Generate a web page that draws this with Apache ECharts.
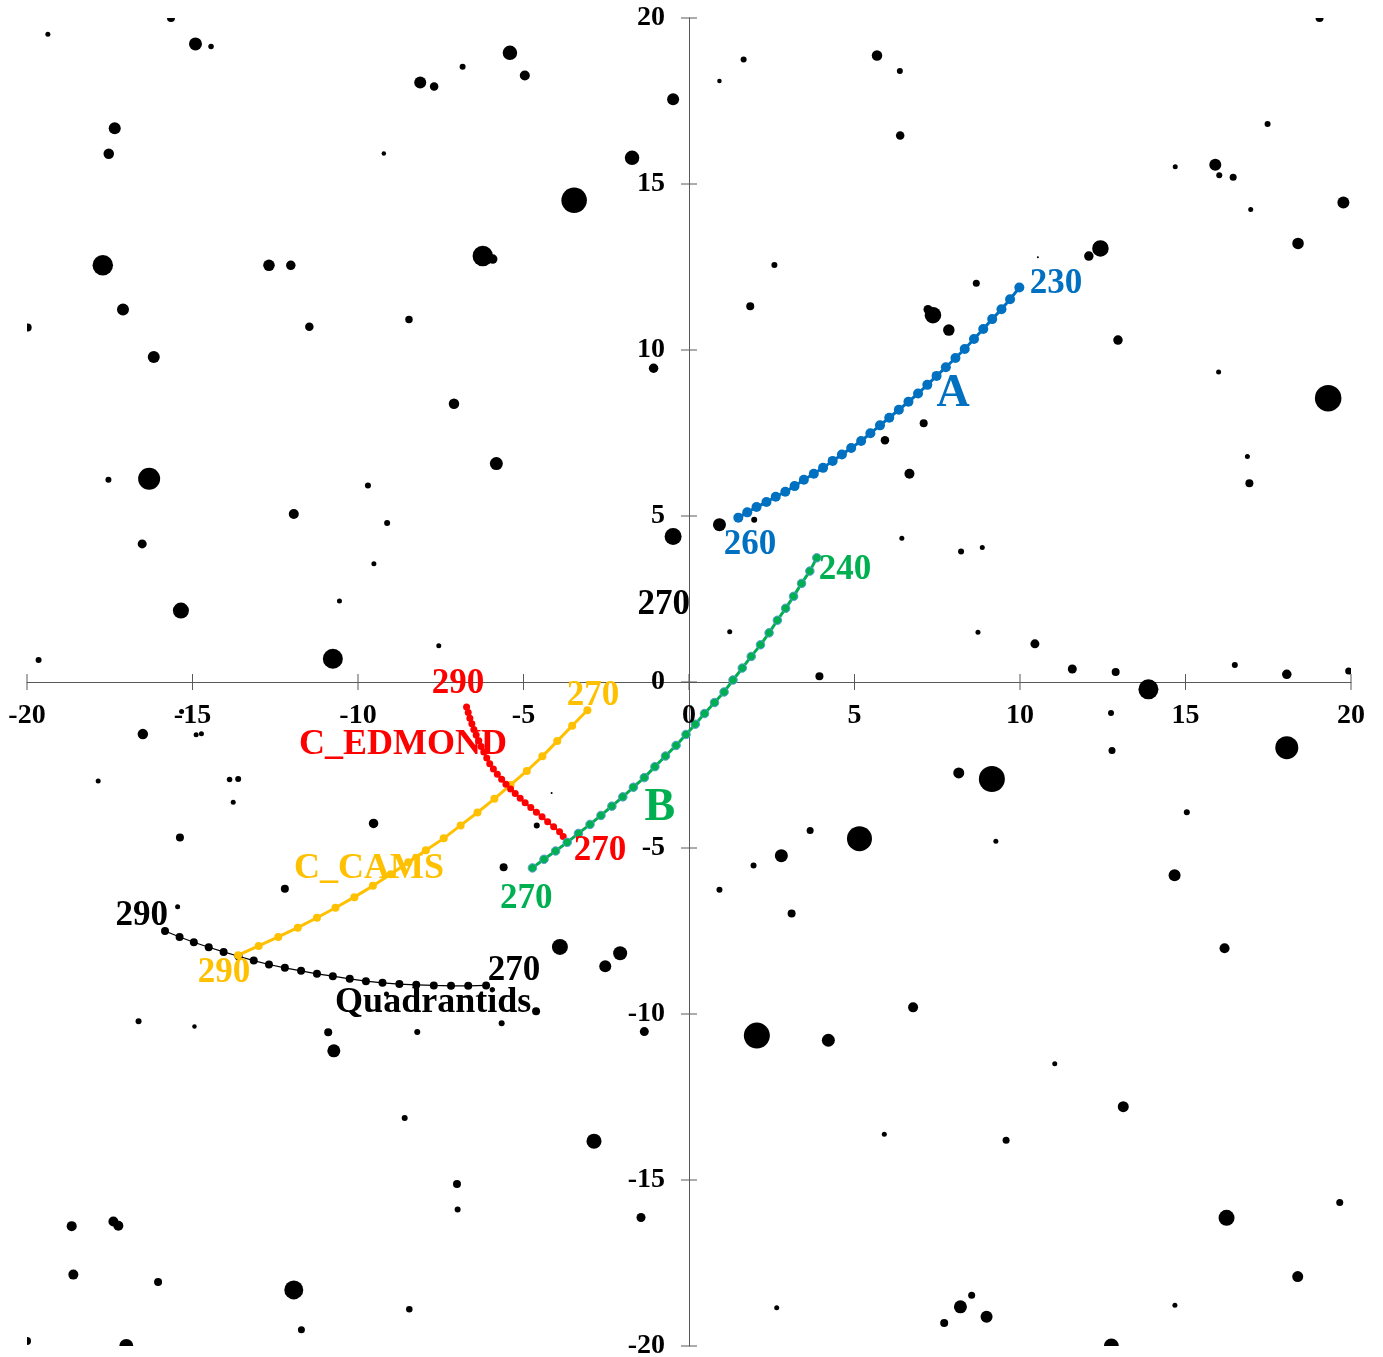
<!DOCTYPE html>
<html>
<head>
<meta charset="utf-8">
<script src="https://cdn.jsdelivr.net/npm/echarts@6/dist/echarts.min.js"></script>
<style>
  html, body { margin: 0; padding: 0; background: #ffffff; }
  #chart { width: 1383px; height: 1357px; }
</style>
</head>
<body>
<div id="chart"></div>
<script>
// Radiant drift of the meteor streams (solar longitude marks at the ends),
// plotted over the background star field.

const AXIS_MIN = -20;
const AXIS_MAX = 20;
const AXIS_STEP = 5;
const tickValues = [-20, -15, -10, -5, 0, 5, 10, 15, 20];

// Stream A, solar longitude 260 -> 230
const streamA = [
  [1.49, 4.95], [1.76, 5.11], [2.04, 5.27], [2.34, 5.42], [2.62, 5.58], [2.91, 5.73],
  [3.19, 5.90], [3.47, 6.09], [3.77, 6.27], [4.05, 6.45], [4.34, 6.66], [4.62, 6.85],
  [4.90, 7.05], [5.20, 7.26], [5.48, 7.49], [5.77, 7.73], [6.05, 7.96], [6.34, 8.20],
  [6.63, 8.44], [6.92, 8.69], [7.20, 8.95], [7.48, 9.22], [7.76, 9.48], [8.05, 9.76],
  [8.33, 10.03], [8.61, 10.33], [8.89, 10.63], [9.16, 10.93], [9.44, 11.23], [9.70, 11.53],
  [9.98, 11.88]
];

// Stream B, solar longitude 270 -> 240
const streamB = [
  [-4.73, -5.60], [-4.38, -5.34], [-4.03, -5.09], [-3.68, -4.83], [-3.34, -4.56], [-2.99, -4.29],
  [-2.66, -4.02], [-2.33, -3.74], [-2.00, -3.46], [-1.68, -3.17], [-1.35, -2.88], [-1.03, -2.55],
  [-0.71, -2.23], [-0.39, -1.91], [-0.09, -1.58], [0.19, -1.27], [0.47, -0.95], [0.77, -0.62],
  [1.06, -0.30], [1.33, 0.06], [1.61, 0.42], [1.88, 0.77], [2.16, 1.12], [2.42, 1.48],
  [2.67, 1.86], [2.92, 2.22], [3.16, 2.58], [3.40, 2.97], [3.65, 3.34], [3.86, 3.74]
];

// C_EDMOND, solar longitude 290 -> 270
const streamEdmond = [
  [-6.72, -0.75], [-6.67, -0.92], [-6.62, -1.09], [-6.56, -1.26], [-6.50, -1.43], [-6.43, -1.60],
  [-6.35, -1.77], [-6.28, -1.94], [-6.20, -2.11], [-6.11, -2.29], [-6.02, -2.46], [-5.91, -2.62],
  [-5.79, -2.78], [-5.66, -2.93], [-5.53, -3.08], [-5.39, -3.22], [-5.25, -3.36], [-5.10, -3.50],
  [-4.95, -3.64], [-4.78, -3.78], [-4.61, -3.92], [-4.44, -4.06], [-4.27, -4.21], [-4.09, -4.36],
  [-3.91, -4.51], [-3.80, -4.65]
];

// C_CAMS, solar longitude 290 -> 270
const streamCams = [
  [-13.62, -8.23], [-13.00, -7.95], [-12.41, -7.68], [-11.82, -7.40], [-11.24, -7.10],
  [-10.68, -6.80], [-10.11, -6.48], [-9.55, -6.14], [-9.01, -5.79], [-8.48, -5.43],
  [-7.95, -5.07], [-7.41, -4.71], [-6.90, -4.32], [-6.39, -3.93], [-5.88, -3.52],
  [-5.39, -3.10], [-4.90, -2.68], [-4.43, -2.24], [-3.98, -1.78], [-3.53, -1.32],
  [-3.07, -0.85]
];

// Quadrantids, solar longitude 290 -> 270
const streamQuadrantids = [
  [-15.83, -7.50], [-15.39, -7.68], [-14.96, -7.84], [-14.51, -7.99], [-14.06, -8.13],
  [-13.61, -8.26], [-13.15, -8.39], [-12.69, -8.51], [-12.21, -8.61], [-11.72, -8.70],
  [-11.24, -8.79], [-10.76, -8.86], [-10.25, -8.94], [-9.76, -9.01], [-9.26, -9.06],
  [-8.75, -9.10], [-8.24, -9.12], [-7.71, -9.14], [-7.19, -9.15], [-6.67, -9.15],
  [-6.13, -9.14]
];

// Background stars: [x, y, magnitude]
const stars = [
  [-15.65, 20.00, 4.4], [-19.37, 19.51, 5.0], [-14.91, 19.22, 3.4], [-14.44, 19.14, 4.9],
  [-6.84, 18.53, 4.8], [-8.12, 18.06, 3.6], [-7.70, 17.94, 4.3], [-17.35, 16.68, 3.6],
  [-17.53, 15.91, 3.9], [-9.22, 15.92, 5.1], [-17.71, 12.55, 1.9], [-12.69, 12.55, 3.7],
  [-12.03, 12.55, 4.1], [-17.10, 11.22, 3.6], [-19.98, 10.68, 4.4], [-11.47, 10.70, 4.3],
  [-8.46, 10.92, 4.5], [-16.17, 9.79, 3.6], [-7.10, 8.38, 3.9], [-5.41, 18.95, 3.1],
  [-4.96, 18.27, 4.0], [-0.48, 17.55, 3.6], [-1.72, 15.79, 3.1], [-3.47, 14.51, 0.9],
  [-6.23, 12.83, 1.9], [-5.93, 12.74, 4.1], [-1.07, 9.45, 4.1], [0.92, 18.10, 5.1],
  [1.65, 18.75, 4.8], [5.68, 18.87, 3.9], [6.37, 18.40, 4.8], [6.38, 16.46, 4.3],
  [2.58, 12.56, 4.8], [1.85, 11.32, 4.4], [5.92, 7.28, 4.3], [7.09, 7.79, 4.4],
  [19.05, 20.00, 4.4], [17.48, 16.81, 4.8], [14.69, 15.52, 5.0], [15.90, 15.58, 3.6],
  [16.02, 15.26, 4.8], [16.44, 15.20, 4.6], [16.97, 14.23, 5.0], [19.77, 14.44, 3.6],
  [18.40, 13.21, 3.7], [12.43, 13.06, 2.7], [12.08, 12.83, 4.1], [8.68, 12.01, 4.6],
  [7.22, 11.22, 4.2], [7.37, 11.05, 2.7], [7.85, 10.60, 3.7], [12.96, 10.30, 4.1],
  [16.00, 9.34, 5.0], [19.31, 8.55, 0.7], [10.54, 12.79, 5.6], [-4.15, -3.34, 5.6],
  [-17.54, 6.09, 4.8], [-16.31, 6.12, 1.6], [-9.70, 5.92, 4.8], [-11.94, 5.06, 4.0],
  [-9.12, 4.79, 4.8], [-16.52, 4.16, 4.2], [-9.52, 3.56, 5.0], [-10.56, 2.44, 5.0],
  [-15.35, 2.15, 2.8], [-7.56, 1.09, 5.0], [-19.65, 0.66, 4.8], [-10.76, 0.70, 2.0],
  [-15.33, -0.89, 5.0], [-16.50, -1.57, 3.9], [-14.89, -1.59, 5.0], [-14.73, -1.56, 5.0],
  [-17.85, -2.98, 5.0], [-13.88, -2.94, 4.9], [-13.62, -2.92, 4.8], [-13.77, -3.62, 5.0],
  [-9.53, -4.26, 4.1], [-15.38, -4.68, 4.4], [-12.21, -6.23, 4.4],
  [-5.82, 6.58, 3.4], [-0.48, 4.38, 2.6], [0.92, 4.74, 3.4], [1.97, 4.89, 4.8],
  [6.66, 6.27, 4.0], [6.43, 4.33, 5.0], [1.23, 1.51, 5.0], [3.94, 0.17, 4.4],
  [-4.60, -4.32, 4.8], [-5.60, -5.58, 4.4], [3.66, -4.47, 4.6], [5.15, -4.72, 1.0],
  [2.79, -5.23, 3.4], [1.95, -5.53, 4.8], [0.92, -6.26, 4.8],
  [16.87, 6.79, 5.0], [16.93, 5.99, 4.4], [8.22, 3.93, 4.8], [8.86, 4.05, 5.0],
  [8.73, 1.50, 5.0], [10.45, 1.15, 4.2], [11.58, 0.39, 4.2], [12.89, 0.30, 4.4],
  [13.88, -0.22, 2.0], [16.49, 0.51, 4.8], [18.06, 0.23, 4.1], [19.93, 0.33, 4.6],
  [12.75, -0.93, 4.8], [12.78, -2.06, 4.6], [18.06, -1.98, 1.4], [8.15, -2.74, 3.8],
  [9.15, -2.92, 0.8], [15.04, -3.92, 4.8], [9.27, -4.80, 5.0], [14.67, -5.82, 3.6],
  [-15.45, -6.77, 5.0], [-16.63, -10.22, 4.8], [-14.94, -10.38, 5.1], [-10.90, -10.55, 4.4],
  [-10.73, -11.11, 3.4], [-8.21, -10.54, 4.8], [-8.59, -13.13, 4.8], [-7.01, -15.12, 4.4],
  [-6.99, -15.89, 4.8], [-18.65, -16.39, 4.0], [-17.39, -16.25, 4.0], [-17.24, -16.38, 4.0],
  [-18.60, -17.85, 4.0], [-16.04, -18.07, 4.4], [-11.94, -18.31, 2.2], [-11.71, -19.51, 4.6],
  [-8.45, -18.89, 4.7], [-20.00, -19.85, 4.4], [-17.00, -20.00, 3.2], [-9.14, -9.40, 5.0],
  [-3.90, -7.98, 2.8], [-2.08, -8.17, 3.2], [-2.53, -8.56, 3.6], [-4.62, -9.92, 4.4],
  [-5.66, -10.28, 4.8], [-1.35, -10.53, 4.2], [-2.87, -13.83, 3.0], [-1.45, -16.13, 4.2],
  [3.10, -6.97, 4.4], [2.05, -10.65, 0.8], [4.21, -10.79, 3.4], [6.77, -9.80, 4.0],
  [5.90, -13.62, 5.0], [2.65, -18.85, 5.0],
  [16.18, -8.02, 4.0], [11.05, -11.50, 5.0], [13.12, -12.79, 3.8], [9.58, -13.80, 4.6],
  [19.66, -15.68, 4.6], [16.24, -16.14, 2.8], [18.39, -17.91, 3.8], [14.68, -18.77, 5.0],
  [8.54, -18.47, 4.6], [8.20, -18.82, 3.4], [8.99, -19.12, 3.6], [7.71, -19.31, 4.4],
  [12.76, -20.00, 3.0]
];

// Annotations: [x, y, text, stream]
const notes = [
  [11.09, 11.98, '230', 'A'],
  [7.98, 8.66, 'A', 'A'],
  [1.84, 4.12, '260', 'A'],
  [4.71, 3.37, '240', 'B'],
  [-0.76, 2.31, '270', 'Q'],
  [-0.88, -3.81, 'B', 'B'],
  [-6.98, -0.05, '290', 'E'],
  [-8.64, -1.89, 'C_EDMOND', 'E'],
  [-2.90, -0.43, '270', 'C'],
  [-2.69, -5.10, '270', 'E'],
  [-9.67, -5.63, 'C_CAMS', 'C'],
  [-4.92, -6.54, '270', 'B'],
  [-16.53, -7.06, '290', 'Q'],
  [-14.05, -8.77, '290', 'C'],
  [-5.29, -8.71, '270', 'Q'],
  [-7.73, -9.66, 'Quadrantids', 'Q']
];

const COLORS = { A: '#0070C0', B: '#00B050', E: '#FF0000', C: '#FFC000', Q: '#000000' };
const SERIF = "'Liberation Serif', 'Times New Roman', Times, serif";
const AXIS_COLOR = '#595959';
const TICK_HALF = 8;

function makeAxis() {
  return {
    type: 'value',
    min: AXIS_MIN,
    max: AXIS_MAX,
    interval: AXIS_STEP,
    axisLine: { show: true, onZero: true, lineStyle: { color: AXIS_COLOR, width: 1 } },
    axisTick: { show: false },
    axisLabel: { show: false },
    splitLine: { show: false }
  };
}

function streamSeries(name, data, color, lineWidth, symbolSize, extraItem) {
  return {
    name: name,
    type: 'line',
    data: data,
    symbol: 'circle',
    symbolSize: symbolSize,
    showSymbol: true,
    showAllSymbol: true,
    smooth: false,
    z: 3,
    silent: true,
    lineStyle: { color: color, width: lineWidth, opacity: 1 },
    itemStyle: Object.assign({ color: color, opacity: 1 }, extraItem || {})
  };
}

// Star disc: diameter shrinks with magnitude, clipped at the plot frame
function starSize(mag) { return 30 - 5 * mag; }

function renderStar(params, api) {
  const p = api.coord([api.value(0), api.value(1)]);
  return {
    type: 'circle',
    shape: { cx: p[0], cy: p[1], r: starSize(api.value(2)) / 2 },
    style: { fill: '#000000' }
  };
}

// Tick marks crossing the axis lines at the origin, with their value labels
function tickRenderer(dim) {
  return function (params, api) {
    const v = api.value(0);
    const p = dim === 'x' ? api.coord([v, 0]) : api.coord([0, v]);
    const shape = dim === 'x'
      ? { x1: p[0], y1: p[1] - TICK_HALF, x2: p[0], y2: p[1] + TICK_HALF }
      : { x1: p[0] - TICK_HALF, y1: p[1], x2: p[0] + TICK_HALF, y2: p[1] };
    const text = {
      type: 'text',
      x: dim === 'x' ? p[0] : p[0] - 24,
      y: dim === 'x' ? p[1] + 34 : p[1],
      style: {
        text: String(v),
        fill: '#000000',
        fontFamily: SERIF,
        fontWeight: 'bold',
        fontSize: 28,
        align: dim === 'x' ? 'center' : 'right',
        verticalAlign: 'middle'
      }
    };
    return {
      type: 'group',
      children: [
        { type: 'line', shape: shape, style: { stroke: AXIS_COLOR, lineWidth: 1 } },
        text
      ]
    };
  };
}

const chart = echarts.init(document.getElementById('chart'), null, { renderer: 'canvas' });

chart.setOption({
  animation: false,
  backgroundColor: '#ffffff',
  grid: { left: 27, right: 32, top: 18, bottom: 11, containLabel: false, outerBoundsMode: 'none' },
  xAxis: makeAxis(),
  yAxis: makeAxis(),
  series: [
    {
      name: 'xTicks',
      type: 'custom',
      data: tickValues.map(function (v) { return [v]; }),
      encode: { x: 0 },
      renderItem: tickRenderer('x'),
      clip: false,
      silent: true,
      z: 4
    },
    {
      name: 'yTicks',
      type: 'custom',
      data: tickValues.map(function (v) { return [v]; }),
      encode: { y: 0 },
      renderItem: tickRenderer('y'),
      clip: false,
      silent: true,
      z: 4
    },
    {
      name: 'stars',
      type: 'custom',
      data: stars,
      dimensions: ['x', 'y', 'mag'],
      encode: { x: 0, y: 1 },
      renderItem: renderStar,
      clip: true,
      silent: true,
      z: 2
    },
    streamSeries('Quadrantids', streamQuadrantids, COLORS.Q, 1.2, 8),
    streamSeries('C_CAMS', streamCams, COLORS.C, 3, 8),
    streamSeries('C_EDMOND', streamEdmond, COLORS.E, 2, 7),
    streamSeries('B', streamB, COLORS.B, 3, 8.5, { borderColor: '#5B9BD5', borderWidth: 1 }),
    streamSeries('A', streamA, COLORS.A, 3, 10),
    {
      name: 'notes',
      type: 'scatter',
      symbol: 'circle',
      symbolSize: 1,
      itemStyle: { color: 'rgba(0,0,0,0)', opacity: 1 },
      clip: false,
      silent: true,
      z: 5,
      data: notes.map(function (n) {
        const t = n[2];
        return {
          value: [n[0], n[1]],
          name: t,
          label: {
            show: true,
            position: 'inside',
            formatter: t,
            color: COLORS[n[3]],
            opacity: 1,
            fontFamily: SERIF,
            fontWeight: 'bold',
            fontSize: t.length === 1 ? 46 : (t.length > 3 ? 36 : 35)
          }
        };
      })
    }
  ]
});
</script>
</body>
</html>
